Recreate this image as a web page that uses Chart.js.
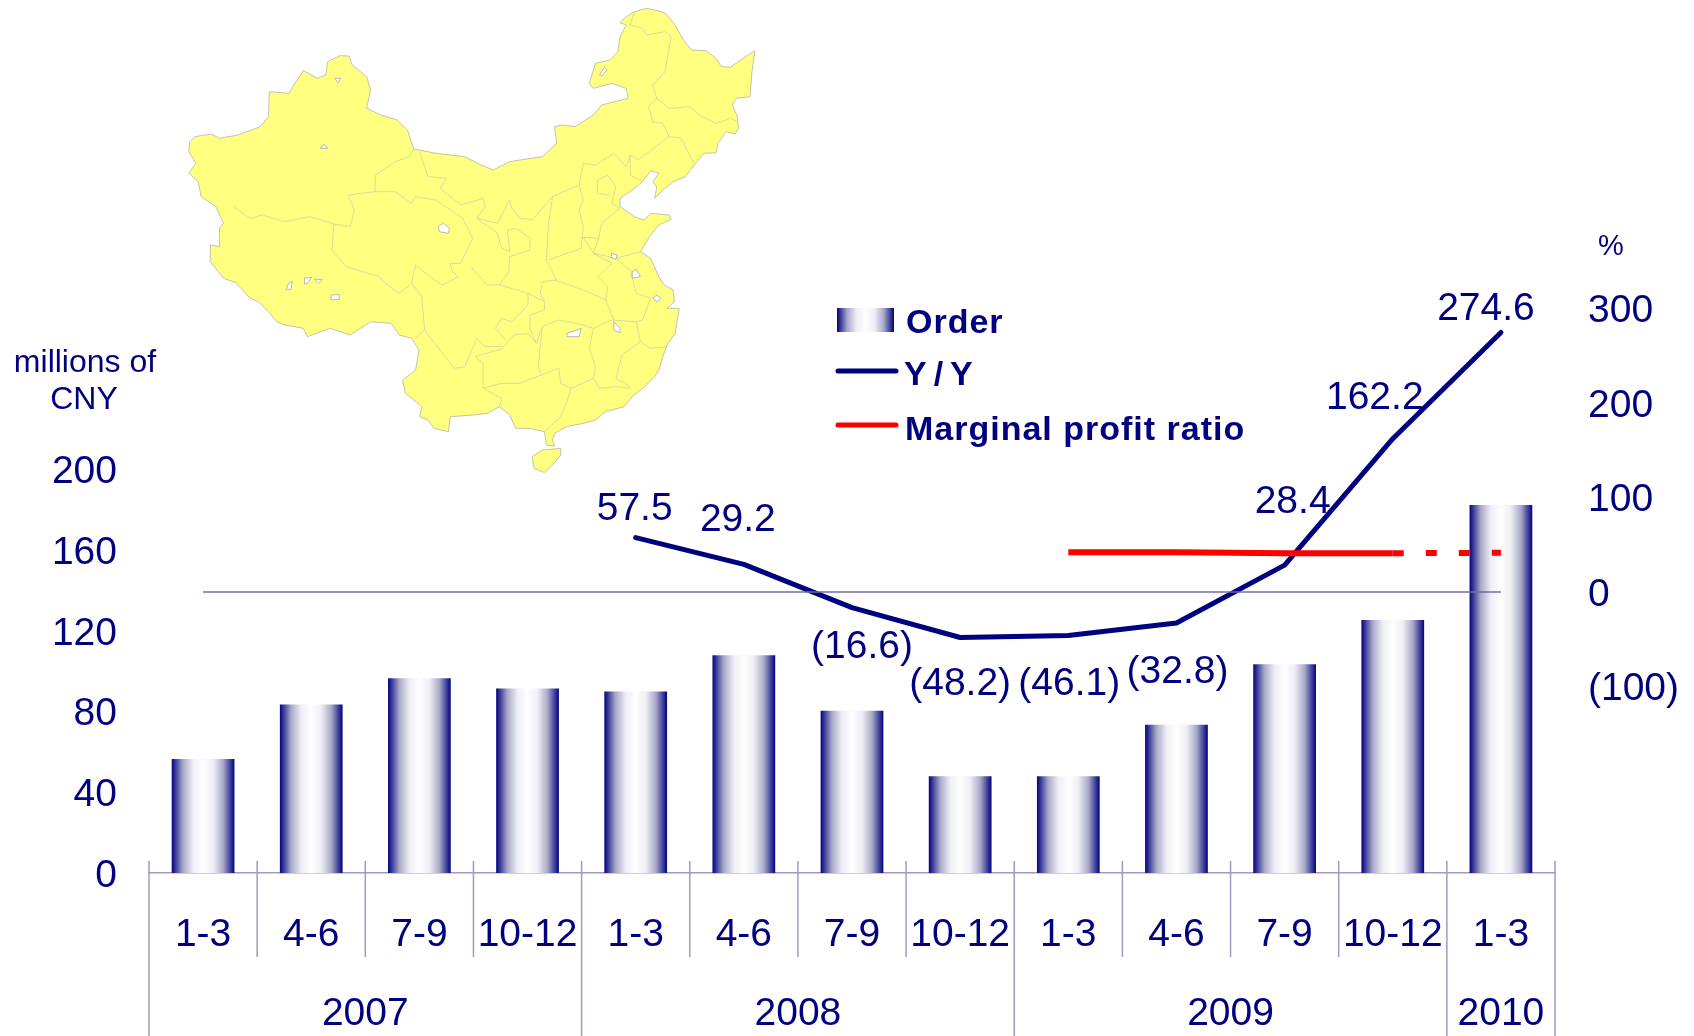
<!DOCTYPE html>
<html>
<head>
<meta charset="utf-8">
<title>Order in China</title>
<script src="https://cdn.jsdelivr.net/npm/chart.js@4"></script>
<style>
    html, body { margin: 0; padding: 0; background: #fff; }
    canvas { display: block; }
</style>
</head>
<body>
<canvas id="orderChart" width="1694" height="1036"></canvas>
<script>
// data
const quarters = ["1-3", "4-6", "7-9", "10-12", "1-3", "4-6", "7-9", "10-12", "1-3", "4-6", "7-9", "10-12", "1-3"];
const years = ["2007", "2008", "2009", "2010"];
const yearSpans = [4, 4, 4, 1];
const orders = [56.5, 83.5, 96.5, 91.5, 90, 108, 80.5, 48, 48, 73.5, 103.5, 125.5, 182.5];
const yoy = [null, null, null, null, 57.5, 29.2, -16.6, -48.2, -46.1, -32.8, 28.4, 162.2, 274.6];
const marginalRatio = [null, null, null, null, null, null, null, null, 42, 42, 41, 41, 41.5];
const seriesNames = ["Order", "Y/Y", "Marginal profit ratio"];
const leftTicks = [0, 40, 80, 120, 160, 200];
const rightTicks = [-100, 0, 100, 200, 300];

const NAVY = '#000080';
const RULE = '#9c9cc2';
const FONT = '"Liberation Sans", Arial, sans-serif';

// where each Y/Y label sits relative to its point
const labelOffsets = [null, null, null, null, [-1, -30], [-6, -46], [10, 38], [0, 45], [1, 47], [1, 47], [8, -65], [-18, -42], [-15, -25]];

const mapOutline = "M1150,68 1165,50 1185,35 1215,25 1245,33 1262,40 1285,75 1305,120 1325,150 1360,152 1385,175 1398,200 1420,202 1445,180 1480,152 1473,215 1468,290 1435,295 1425,315 1437,350 1440,385 1432,402 1410,395 1390,430 1385,458 1355,460 1335,490 1310,530 1280,545 1255,570 1235,595 1240,560 1230,545 1245,520 1225,512 1205,545 1180,570 1150,595 1150,620 1185,650 1210,660 1225,640 1270,645 1275,658 1245,675 1225,705 1200,755 1225,775 1245,830 1258,855 1280,870 1283,905 1265,925 1295,925 1290,960 1285,1000 1265,1035 1255,1070 1245,1110 1235,1130 1210,1160 1180,1190 1160,1220 1115,1235 1090,1260 1060,1270 1020,1280 990,1300 985,1320 990,1338 970,1335 965,1295 930,1285 895,1285 880,1245 855,1220 825,1240 790,1245 735,1250 730,1295 695,1285 680,1260 660,1250 665,1220 625,1180 618,1140 650,1110 658,1050 640,1015 610,1005 590,970 540,965 490,1005 440,985 385,1010 375,985 330,975 310,965 290,935 265,905 245,895 210,848 180,835 147,785 148,735 170,740 170,685 180,670 160,618 125,590 118,545 95,520 112,490 95,455 97,425 110,410 150,402 170,415 215,405 270,380 290,350 292,275 340,280 352,255 375,212 410,235 430,225 435,185 465,167 487,168 495,195 530,230 540,270 530,325 565,345 605,360 630,390 645,447 700,460 770,470 810,495 840,510 880,485 960,470 995,430 990,380 1010,375 1040,380 1085,345 1105,315 1170,295 1165,265 1130,250 1085,265 1075,250 1090,190 1125,180 1145,155 1150,110 1165,75Z M935,1370 960,1350 1005,1345 1005,1365 985,1395 965,1418 940,1405Z";
const mapBorders = [
    "M205,620 245,655 275,645 330,665 390,650 450,672 490,680",
    "M490,680 500,630 485,585 550,575 600,575 640,610 650,590 700,600 765,655 790,715 760,790 735,790 740,815 755,830 715,855 680,825 650,795 640,850 610,880 580,855 560,830 480,800 445,750 450,672",
    "M550,575 552,525 600,485 635,470 645,447",
    "M660,455 680,530 725,535 710,565 760,615 815,595 820,620 800,655 850,670 880,600 885,625 905,655 935,660 985,590 1050,555 1060,490 1090,495 1135,460 1165,500 1175,465 1195,480 1270,410",
    "M1270,410 1300,415 1330,490",
    "M1270,410 1255,370 1230,365 1220,320 1240,295 1230,255 1260,215 1275,110 1260,95 1215,105 1205,85 1175,75 1185,35",
    "M1240,295 1270,325 1320,320 1350,350 1385,370 1420,355 1437,365",
    "M1175,465 1175,525 1205,545",
    "M640,850 665,890 672,990 650,1015",
    "M672,990 690,1020 745,1105 770,1100 800,1015 820,1040 865,1040 890,1005 925,1000 945,1030 960,980 1000,960 1060,975 1085,985 1130,960 1190,965 1200,1025 1225,1045 1265,1040",
    "M800,655 850,700 860,745 880,755 875,690 895,685 930,715 930,750 880,770 878,815 855,855",
    "M785,800 825,855 855,855 925,880 965,905 965,930 930,945 930,985 945,1030",
    "M925,880 925,915 885,965 860,955 845,985 870,1020",
    "M985,590 975,670 970,780 995,840 960,845 955,880 965,905",
    "M1050,555 1060,600 1050,630 1060,680 1055,745 975,780",
    "M990,840 1060,870 1115,900 1120,860 1095,830 1130,790 1085,760 1060,712 1098,715",
    "M1150,625 1105,670 1098,715 1085,760 1140,775 1200,755",
    "M1140,775 1175,810 1190,880 1225,895 1205,960 1190,965",
    "M1115,900 1135,960",
    "M960,980 950,1100 955,1120",
    "M1075,1045 1090,1100 1085,1135",
    "M1075,1045 1085,985",
    "M1200,1025 1155,1065 1140,1135 1175,1160",
    "M795,1070 815,1090 815,1165 860,1150 905,1150 1000,1105 1005,1150 1030,1165 1085,1135 1100,1165 1140,1160 1175,1165",
    "M1030,1165 1020,1205 1005,1250 965,1295",
    "M815,1165 860,1195 855,1220",
    "M795,1070 865,1045",
    "M1095,540 1120,525 1140,560 1130,610 1150,625",
    "M1095,540 1095,580 1125,585"
];
const mapLakes = [
    "M705,680 718,670 733,685 730,700 708,695Z",
    "M1100,225 1112,202 1118,210 1105,228Z",
    "M417,445 425,432 435,445Z",
    "M452,235 467,235 460,248Z",
    "M333,868 340,848 348,845 345,868Z",
    "M378,835 395,832 385,850 378,852Z",
    "M402,838 422,838 413,850Z",
    "M443,885 463,883 463,898 443,900Z",
    "M1130,760 1143,765 1140,778 1128,772Z",
    "M1135,965 1150,985 1150,998 1135,990Z",
    "M1020,1000 1045,990 1055,985 1050,1010 1020,1010Z",
    "M1180,815 1190,808 1200,830 1180,835Z",
    "M1240,885 1250,895 1240,905 1230,895Z"
];

function shineGradient(ctx, x0, x1) {
    const g = ctx.createLinearGradient(x0, 0, x1, 0);
    g.addColorStop(0, NAVY);
    g.addColorStop(0.18, '#a8a8c8');
    g.addColorStop(0.34, '#eeeef5');
    g.addColorStop(0.5, '#ffffff');
    g.addColorStop(0.66, '#eeeef5');
    g.addColorStop(0.82, '#a8a8c8');
    g.addColorStop(1, NAVY);
    return g;
}

// the digits sit a bit high on baseline middle, +2 brings them on center
function drawText(ctx, text, x, y, font, align) {
    ctx.font = font;
    ctx.fillStyle = NAVY;
    ctx.textAlign = align || 'center';
    ctx.textBaseline = 'middle';
    ctx.fillText(text, x, y + 2);
}

function parens(v, digits) {
    const s = Math.abs(v).toFixed(digits);
    return v < 0 ? '(' + s + ')' : s;
}

// same thing for the axis labels, there is no option for it
function nudgeLabels(scale) {
    if (scale.nudged) return;
    scale.nudged = true;
    const orig = scale.drawLabels;
    scale.drawLabels = function (area) {
        scale.ctx.save();
        scale.ctx.translate(0, 3);
        orig.call(scale, area);
        scale.ctx.restore();
    };
}

const mapPlugin = {
    id: 'chinaMap',
    beforeDraw(chart) {
        const ctx = chart.ctx;
        ctx.save();
        ctx.translate(150, 0);
        ctx.scale(0.4087, 1 / 3);
        ctx.lineJoin = 'round';
        const outline = new Path2D(mapOutline);
        ctx.fillStyle = '#ffff80';
        ctx.fill(outline);
        ctx.strokeStyle = '#d6d69a';
        ctx.lineWidth = 2.4;
        mapBorders.forEach(d => ctx.stroke(new Path2D(d)));
        ctx.strokeStyle = '#bcbca8';
        ctx.stroke(outline);
        ctx.fillStyle = '#ffffff';
        ctx.strokeStyle = '#b0b0b0';
        mapLakes.forEach(d => {
            const lake = new Path2D(d);
            ctx.fill(lake);
            ctx.stroke(lake);
        });
        ctx.restore();
    }
};

const decorPlugin = {
    id: 'decor',
    afterDatasetsDraw(chart) {
        const ctx = chart.ctx;
        const x = chart.scales.x;
        const y1 = chart.scales.y1;
        const bottom = chart.chartArea.bottom;
        const step = x.getPixelForValue(1) - x.getPixelForValue(0);
        const edge = i => x.getPixelForValue(0) + (i - 0.5) * step;

        ctx.save();

        // zero line of the % axis
        ctx.strokeStyle = '#6c6ca4';
        ctx.lineWidth = 1.5;
        ctx.beginPath();
        ctx.moveTo(x.getPixelForValue(0), y1.getPixelForValue(0));
        ctx.lineTo(x.getPixelForValue(quarters.length - 1), y1.getPixelForValue(0));
        ctx.stroke();

        // quarter separators and year separators
        const yearEdges = [0];
        yearSpans.forEach(n => yearEdges.push(yearEdges[yearEdges.length - 1] + n));
        ctx.strokeStyle = RULE;
        for (let i = 0; i <= quarters.length; i++) {
            ctx.beginPath();
            ctx.moveTo(edge(i), bottom - 12);
            ctx.lineTo(edge(i), yearEdges.includes(i) ? 1036 : bottom + 84);
            ctx.stroke();
        }

        // year row
        years.forEach((name, i) => {
            drawText(ctx, name, (edge(yearEdges[i]) + edge(yearEdges[i + 1])) / 2, 1012, '39px ' + FONT);
        });

        // Y/Y value labels
        yoy.forEach((v, i) => {
            if (v === null) return;
            const off = labelOffsets[i];
            drawText(ctx, parens(v, 1), x.getPixelForValue(i) + off[0], y1.getPixelForValue(v) + off[1], '39px ' + FONT);
        });

        // axis captions
        drawText(ctx, 'millions of', 85, 361, '32px ' + FONT);
        drawText(ctx, 'CNY', 84, 398, '32px ' + FONT);
        drawText(ctx, '%', 1611, 245, '29px ' + FONT);

        // legend
        const legendFont = 'bold 34px ' + FONT;
        ctx.letterSpacing = '1px';
        ctx.fillStyle = shineGradient(ctx, 837, 894);
        ctx.fillRect(837, 308, 57, 24);
        drawText(ctx, seriesNames[0], 906, 322, legendFont, 'left');
        drawText(ctx, seriesNames[2], 905, 429, legendFont, 'left');
        ctx.letterSpacing = '7px';
        drawText(ctx, seriesNames[1], 904, 374, legendFont, 'left');
        ctx.letterSpacing = '0px';
        ctx.lineCap = 'round';
        ctx.lineWidth = 5;
        ctx.strokeStyle = NAVY;
        ctx.beginPath();
        ctx.moveTo(838, 371);
        ctx.lineTo(896, 371);
        ctx.stroke();
        ctx.strokeStyle = '#ff0000';
        ctx.beginPath();
        ctx.moveTo(838, 425);
        ctx.lineTo(896, 425);
        ctx.stroke();

        ctx.restore();
    }
};

new Chart(document.getElementById('orderChart'), {
    data: {
        labels: quarters,
        datasets: [
            {
                type: 'line',
                label: seriesNames[1],
                data: yoy,
                yAxisID: 'y1',
                order: 2,
                borderColor: NAVY,
                borderWidth: 5,
                borderCapStyle: 'round',
                borderJoinStyle: 'round',
                pointRadius: 0,
                tension: 0
            },
            {
                type: 'line',
                label: seriesNames[2],
                data: marginalRatio,
                yAxisID: 'y1',
                order: 1,
                borderColor: '#ff0000',
                borderWidth: 6,
                pointRadius: 0,
                tension: 0,
                segment: {
                    borderDash: ctx => ctx.p1DataIndex === quarters.length - 1 ? [11, 22] : undefined
                }
            },
            {
                type: 'bar',
                label: seriesNames[0],
                data: orders,
                yAxisID: 'y',
                order: 3,
                barPercentage: 0.58,
                categoryPercentage: 1,
                backgroundColor: ctx => {
                    const mid = ctx.chart.scales.x ? ctx.chart.scales.x.getPixelForValue(ctx.dataIndex) : NaN;
                    if (!Number.isFinite(mid)) return NAVY;
                    return shineGradient(ctx.chart.ctx, mid - 31.5, mid + 31.5);
                }
            }
        ]
    },
    options: {
        responsive: false,
        animation: false,
        layout: { padding: { top: 300 } },
        plugins: {
            legend: { display: false },
            tooltip: { enabled: false }
        },
        scales: {
            x: {
                offset: true,
                grid: { display: false, drawTicks: false },
                border: { color: RULE, width: 1.5 },
                afterFit: scale => { scale.height = 163; },
                ticks: {
                    color: NAVY,
                    padding: 36,
                    autoSkip: false,
                    maxRotation: 0,
                    font: { family: FONT, size: 39 }
                },
                afterUpdate: nudgeLabels
            },
            y: {
                position: 'left',
                min: 0,
                max: 284.1,
                grid: { display: false, drawTicks: false },
                border: { display: false },
                afterFit: scale => { scale.width = 149; },
                afterBuildTicks: scale => { scale.ticks = leftTicks.map(v => ({ value: v })); },
                afterUpdate: nudgeLabels,
                ticks: {
                    color: NAVY,
                    padding: 32,
                    font: { family: FONT, size: 39 }
                }
            },
            y1: {
                position: 'right',
                min: -297.4,
                max: 309,
                grid: { display: false, drawTicks: false },
                border: { display: false },
                afterFit: scale => { scale.width = 139; },
                afterBuildTicks: scale => { scale.ticks = rightTicks.map(v => ({ value: v })); },
                afterUpdate: nudgeLabels,
                ticks: {
                    color: NAVY,
                    padding: 33,
                    font: { family: FONT, size: 39 },
                    callback: v => parens(v, 0)
                }
            }
        }
    },
    plugins: [mapPlugin, decorPlugin]
});
</script>
</body>
</html>
